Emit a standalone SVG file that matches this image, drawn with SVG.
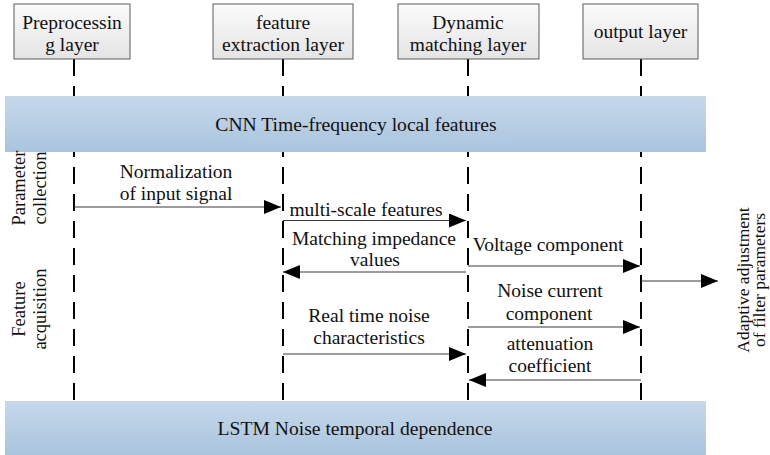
<svg xmlns="http://www.w3.org/2000/svg" width="770" height="455" viewBox="0 0 770 455">
<defs>
<linearGradient id="boxg" x1="0" y1="0" x2="0" y2="1">
<stop offset="0" stop-color="#fbfbfb"/>
<stop offset="1" stop-color="#e4e4e4"/>
</linearGradient>
<linearGradient id="bang" x1="0" y1="0" x2="0" y2="1">
<stop offset="0" stop-color="#c6d8ea"/>
<stop offset="1" stop-color="#a9c5de"/>
</linearGradient>
<marker id="ah" viewBox="0 0 17 14" refX="17" refY="7" markerWidth="17" markerHeight="14" markerUnits="userSpaceOnUse" orient="auto">
<path d="M0,0 L17,7 L0,14 z" fill="#000"/>
</marker>
<style>
.box{fill:url(#boxg);stroke:#5a5a5a;stroke-width:1;}
.bt{font-size:19.5px;text-anchor:middle;}
.life{stroke:#000;stroke-width:2;stroke-dasharray:17 10;fill:none;}
.ban{fill:url(#bang);}
.bant{font-size:19.6px;text-anchor:middle;}
.msg{stroke:#3a3a3a;stroke-width:1.2;fill:none;marker-end:url(#ah);}
.ml{font-size:19.5px;text-anchor:middle;}
.side{font-size:18.5px;text-anchor:middle;}
.rside{font-size:17.5px;text-anchor:middle;}
</style>
</defs>
<rect width="770" height="455" fill="#fff"/>

<g id="lifelines">
<line class="life" x1="74" y1="59" x2="74" y2="401"/>
<line class="life" x1="283" y1="59" x2="283" y2="401"/>
<line class="life" x1="468" y1="59" x2="468" y2="401"/>
<line class="life" x1="641" y1="59" x2="641" y2="401"/>
</g>

<g font-family="Liberation Serif, serif" fill="#111">
<g id="node-preprocessing">
<rect class="box" x="14" y="4" width="116" height="55"/>
<text class="bt" x="72" y="29">Preprocessin</text>
<text class="bt" x="72" y="51">g layer</text>
</g>
<g id="node-feature-extraction">
<rect class="box" x="213" y="4" width="140" height="55"/>
<text class="bt" x="283" y="29">feature</text>
<text class="bt" x="283" y="51">extraction layer</text>
</g>
<g id="node-dynamic-matching">
<rect class="box" x="398" y="4" width="141" height="55"/>
<text class="bt" x="468" y="29">Dynamic</text>
<text class="bt" x="468" y="51">matching layer</text>
</g>
<g id="node-output">
<rect class="box" x="583" y="4" width="115" height="55"/>
<text class="bt" x="640.5" y="38">output layer</text>
</g>

<g id="banner-cnn">
<rect class="ban" x="5" y="96" width="701" height="56"/>
<text class="bant" x="356" y="131">CNN Time-frequency local features</text>
</g>
<g id="banner-lstm">
<rect class="ban" x="5" y="401" width="701" height="54"/>
<text class="bant" x="355" y="435">LSTM Noise temporal dependence</text>
</g>

<g id="connectors">
<line class="msg" x1="74" y1="207" x2="281" y2="207"/>
<line class="msg" x1="283" y1="220.5" x2="466" y2="220.5"/>
<line class="msg" x1="466" y1="272" x2="283" y2="272"/>
<line class="msg" x1="468" y1="266" x2="640" y2="266"/>
<line class="msg" x1="641" y1="281" x2="718" y2="281"/>
<line class="msg" x1="468" y1="327" x2="640" y2="327"/>
<line class="msg" x1="283" y1="354" x2="466" y2="354"/>
<line class="msg" x1="641" y1="380" x2="469" y2="380"/>
</g>

<g id="labels">
<text class="ml" x="176" y="178">Normalization</text>
<text class="ml" x="176" y="200">of input signal</text>
<text class="ml" x="366" y="216">multi-scale features</text>
<text class="ml" x="374" y="245">Matching impedance</text>
<text class="ml" x="375" y="266">values</text>
<text class="ml" x="548" y="251">Voltage component</text>
<text class="ml" x="550" y="297">Noise current</text>
<text class="ml" x="549" y="320">component</text>
<text class="ml" x="369" y="322">Real time noise</text>
<text class="ml" x="369" y="344">characteristics</text>
<text class="ml" x="550" y="350">attenuation</text>
<text class="ml" x="550" y="372">coefficient</text>
<text class="side" transform="translate(25,188) rotate(-90)">Parameter</text>
<text class="side" transform="translate(46,188) rotate(-90)">collection</text>
<text class="side" transform="translate(25,309) rotate(-90)">Feature</text>
<text class="side" transform="translate(46,309) rotate(-90)">acquisition</text>
<text class="rside" transform="translate(749,280) rotate(-90)">Adaptive adjustment</text>
<text class="rside" transform="translate(765,280) rotate(-90)">of filter parameters</text>
</g>
</g>
</svg>
